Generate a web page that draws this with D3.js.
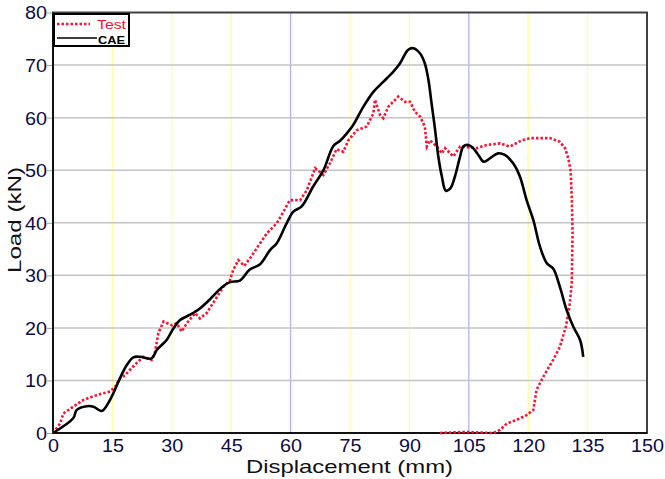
<!DOCTYPE html>
<html>
<head>
<meta charset="utf-8">
<script src="https://cdn.jsdelivr.net/npm/d3@7"></script>
<style>
  body { margin: 0; background: #fff; }
  svg { display: block; font-family: "Liberation Sans", Arial, sans-serif; }
</style>
</head>
<body>
<div id="chart"></div>
<script>
// data
const xTicks = [0, 15, 30, 45, 60, 75, 90, 105, 120, 135, 150];
const yTicks = [0, 10, 20, 30, 40, 50, 60, 70, 80];
const blueGrid = [60, 105];

const caeX = [0, 5.1, 6, 8.5, 10.2, 12.3, 14.4, 16.9, 18.6, 20.3, 22, 24.9, 26.2, 28.7, 30.4, 32.1, 34.6, 37.1, 39.6,
  42.6, 44.7, 47.2, 49.7, 52.3, 54.8, 56.5, 59, 60.7, 62.8, 65.7, 68.3, 70.8, 72.5, 74.2, 75.8, 78.4, 80.9, 83.4, 85.9,
  87.6, 89.7, 91, 92.7, 93.9, 94.8, 95.6, 96.5, 97.3, 98.2, 99.2, 100.4, 101.5, 102.8, 103.6, 104.9, 106.1, 107.4,
  108.8, 110.4, 112.4, 114.1, 116.2, 117.9, 119.6, 121.3, 123, 124.7, 126.3, 128, 129.7, 131.4, 133.1, 133.9];
const caeY = [0, 2.8, 4.4, 5.1, 5.0, 4.2, 6.3, 10.4, 12.9, 14.4, 14.5, 14.2, 15.8, 17.7, 19.9, 21.5, 22.5, 23.7, 25.4,
  27.7, 28.7, 29.0, 31.1, 32.1, 34.8, 36.1, 39.9, 42.1, 43.1, 46.9, 50.0, 54.6, 55.6, 57.0, 58.6, 62.1, 64.9, 66.8, 68.7,
  70.3, 72.9, 73.2, 72.2, 70.3, 67.2, 62.7, 57.6, 52.6, 48.8, 46.1, 46.6, 48.8, 52.6, 54.5, 54.8, 54.2, 52.9,
  51.6, 52.3, 53.2, 52.9, 51.3, 48.8, 44.3, 40.5, 35.4, 32.3, 31.3, 27.8, 23.4, 20.2, 17.7, 14.5];

const testX = [0, 1.8, 2.6, 5.1, 7.7, 11, 14.4, 15.7, 16.9, 18.2, 19.4, 21.1, 22.8, 24.9, 25.8, 26.6, 27.9, 30, 31.2,
  32.5, 33.8, 35.9, 37.1, 38.8, 40.9, 43, 44.7, 45.5, 46.8, 48.3, 50, 52.3, 54, 56.5, 58.2, 59.8, 62.4, 64.1, 66.2,
  68.3, 70, 71.6, 73.3, 74.6, 76.7, 79.2, 80.9, 81.3, 82.6, 83.4, 84.7, 87.2, 88.9, 90.2, 91.4, 92.7, 93.9, 94.4,
  95.2, 96.9, 98.2, 99, 101.1, 102.8, 107, 109.5, 112.9, 115.4, 118.4, 120.5, 125.5, 128, 129.3, 130.1, 130.7, 131,
  131.2, 131, 130.4, 129.5, 128, 126.3, 123.8, 122.1, 121.3, 119.6, 117.1, 114.6, 112.9, 111.2, 104, 97.3];
const testY = [0, 1.8, 3.7, 5.0, 6.3, 7.2, 7.9, 8.8, 10.4, 11.0, 12.0, 13.3, 14.5, 13.9, 15.5, 19.0, 21.2, 20.5, 20.9,
  19.3, 20.9, 22.8, 21.8, 22.8, 25.3, 27.8, 29.1, 31.0, 32.9, 31.8, 33.5, 36.1, 38.0, 39.9, 42.1, 44.3, 44.3, 46.2, 50.4,
  49.1, 51.4, 54.0, 53.5, 55.7, 57.6, 58.3, 60.8, 63.4, 60.5, 59.9, 62.1, 64.0, 63.0, 63.0, 61.1, 60.2, 58.3, 54.5,
  55.7, 54.5, 53.2, 54.2, 52.6, 54.5, 54.2, 54.8, 55.1, 54.5, 55.7, 56.1, 56.1, 55.4, 54.2, 52.3, 50.0, 45.0,
  38.0, 28.5, 24.0, 20.2, 16.4, 13.9, 10.7, 8.2, 4.4, 3.4, 2.5, 1.8, 0.6, 0, 0.2, 0];

const W = 665, H = 479;
const margin = { top: 12.5, right: 18, bottom: 46, left: 53 };

const svg = d3.select('#chart').append('svg').attr('width', W).attr('height', H);

const x = d3.scaleLinear().domain([0, 150]).range([margin.left, W - margin.right]);
const y = d3.scaleLinear().domain([0, 80]).range([H - margin.bottom, margin.top]);

// grid
svg.append('g').selectAll('line.vg').data(xTicks.slice(1, -1)).join('line')
  .attr('x1', d => x(d)).attr('x2', d => x(d))
  .attr('y1', y(0)).attr('y2', y(80))
  .attr('stroke', d => blueGrid.includes(d) ? '#b4b4f4' : '#ffff9e')
  .attr('stroke-width', 1.3);

svg.append('g').selectAll('line.hg').data(yTicks.slice(1, -1)).join('line')
  .attr('x1', x(0)).attr('x2', x(150))
  .attr('y1', d => y(d)).attr('y2', d => y(d))
  .attr('stroke', '#c4c4c4').attr('stroke-width', 1.5);

// axes
const yAxis = svg.append('g').attr('transform', `translate(${x(0)},0)`)
  .call(d3.axisLeft(y).tickValues(yTicks).tickSize(6).tickSizeOuter(0));
yAxis.select('.domain').remove();
yAxis.selectAll('line').attr('stroke', '#a0a0a0');
yAxis.selectAll('text')
  .attr('x', -6).attr('dy', '0.36em')
  .style('font-size', '18px').attr('fill', '#0c0c48')
  .attr('textLength', d => String(d).length * 11)
  .attr('lengthAdjust', 'spacingAndGlyphs');

const xAxis = svg.append('g').attr('transform', `translate(0,${y(0)})`)
  .call(d3.axisBottom(x).tickValues(xTicks).tickSize(0));
xAxis.select('.domain').remove();
xAxis.selectAll('text')
  .attr('y', 19).attr('dy', 0)
  .style('font-size', '18px').attr('fill', '#0c0c48')
  .attr('textLength', d => String(d).length * 11)
  .attr('lengthAdjust', 'spacingAndGlyphs');

// frame
svg.append('rect')
  .attr('x', x(0)).attr('y', y(80))
  .attr('width', x(150) - x(0)).attr('height', y(0) - y(80))
  .attr('fill', 'none').attr('stroke', '#404040').attr('stroke-width', 2);
svg.append('line').attr('x1', x(0)).attr('x2', x(0)).attr('y1', y(0)).attr('y2', y(80))
  .attr('stroke', '#111').attr('stroke-width', 2);
svg.append('line').attr('x1', x(0)).attr('x2', x(150)).attr('y1', y(0)).attr('y2', y(0))
  .attr('stroke', '#111').attr('stroke-width', 2);

// series
const lineFree = d3.line().x(d => x(d[0])).y(d => y(d[1])).curve(d3.curveLinear);

svg.append('path')
  .datum(testX.map((v, i) => [v, testY[i]]))
  .attr('d', lineFree)
  .attr('fill', 'none').attr('stroke', '#ff1030').attr('stroke-width', 2.6)
  .attr('stroke-dasharray', '2.5,2');

svg.append('path')
  .datum(caeX.map((v, i) => [v, caeY[i]]))
  .attr('d', d3.line().x(d => x(d[0])).y(d => y(d[1])).curve(d3.curveCatmullRom))
  .attr('fill', 'none').attr('stroke', '#000').attr('stroke-width', 2.6);

// titles
svg.append('text')
  .attr('x', 349.5).attr('y', 473).attr('text-anchor', 'middle')
  .style('font-size', '19px').attr('fill', '#111')
  .attr('textLength', 207).attr('lengthAdjust', 'spacingAndGlyphs')
  .text('Displacement (mm)');

svg.append('text')
  .attr('transform', 'translate(21,220) rotate(-90)').attr('text-anchor', 'middle')
  .style('font-size', '18px').attr('fill', '#111')
  .attr('textLength', 106).attr('lengthAdjust', 'spacingAndGlyphs')
  .text('Load (kN)');

// legend
const lg = svg.append('g');
lg.append('rect').attr('x', 54).attr('y', 14).attr('width', 75).attr('height', 32)
  .attr('fill', '#fff').attr('stroke', '#000').attr('stroke-width', 2);
lg.append('line').attr('x1', 57).attr('x2', 90).attr('y1', 24).attr('y2', 24)
  .attr('stroke', '#ff1030').attr('stroke-width', 2.4).attr('stroke-dasharray', '2.5,2');
lg.append('text').attr('x', 97).attr('y', 29).style('font-size', '13px').attr('fill', '#ff1030')
  .attr('textLength', 29).attr('lengthAdjust', 'spacingAndGlyphs').text('Test');
lg.append('line').attr('x1', 57).attr('x2', 97).attr('y1', 38).attr('y2', 38)
  .attr('stroke', '#000').attr('stroke-width', 1.6);
lg.append('text').attr('x', 98).attr('y', 44).style('font-size', '10px').style('font-weight', 'bold')
  .attr('fill', '#000').attr('textLength', 27).attr('lengthAdjust', 'spacingAndGlyphs').text('CAE');
</script>
</body>
</html>
